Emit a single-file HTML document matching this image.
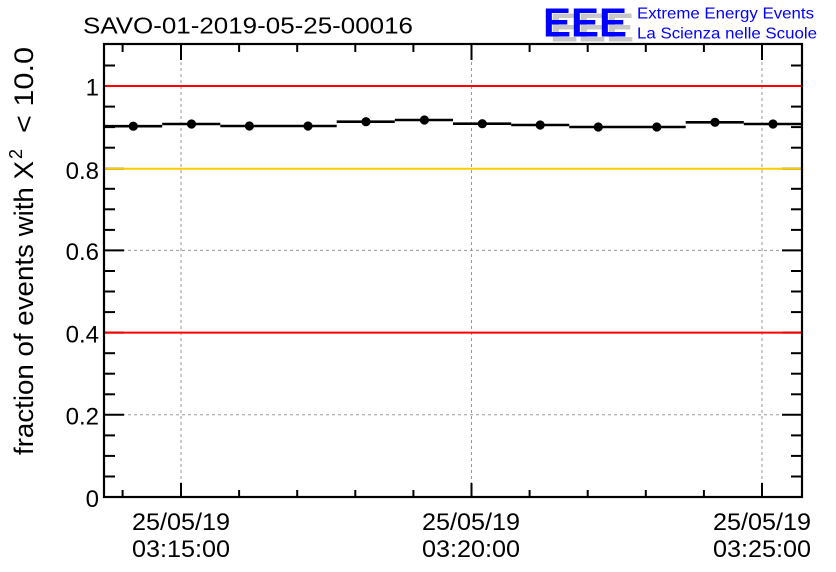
<!DOCTYPE html>
<html>
<head>
<meta charset="utf-8">
<style>
html,body{margin:0;padding:0;background:#fff;}
svg{display:block;}
text{font-family:"Liberation Sans",Arial,sans-serif;}
</style>
</head>
<body>
<svg width="836" height="572" viewBox="0 0 836 572" xmlns="http://www.w3.org/2000/svg">
<rect x="0" y="0" width="836" height="572" fill="#fff"/>

<!-- grid -->
<g stroke="#999" stroke-width="1" stroke-dasharray="3,3" fill="none">
<line x1="181" y1="44" x2="181" y2="497"/>
<line x1="471.5" y1="44" x2="471.5" y2="497"/>
<line x1="762" y1="44" x2="762" y2="497"/>
<line x1="104" y1="414.8" x2="802" y2="414.8"/>
<line x1="104" y1="250.4" x2="802" y2="250.4"/>
</g>

<!-- y ticks -->
<g stroke="#000" stroke-width="2">
<line x1="104" y1="497" x2="124" y2="497"/><line x1="802" y1="497" x2="782" y2="497"/>
<line x1="104" y1="414.8" x2="124" y2="414.8"/><line x1="802" y1="414.8" x2="782" y2="414.8"/>
<line x1="104" y1="332.6" x2="124" y2="332.6"/><line x1="802" y1="332.6" x2="782" y2="332.6"/>
<line x1="104" y1="250.4" x2="124" y2="250.4"/><line x1="802" y1="250.4" x2="782" y2="250.4"/>
<line x1="104" y1="168.8" x2="124" y2="168.8"/><line x1="802" y1="168.8" x2="782" y2="168.8"/>
<line x1="104" y1="86" x2="124" y2="86"/><line x1="802" y1="86" x2="782" y2="86"/>

<line x1="104" y1="476.5" x2="115" y2="476.5"/><line x1="802" y1="476.5" x2="791" y2="476.5"/>
<line x1="104" y1="455.9" x2="115" y2="455.9"/><line x1="802" y1="455.9" x2="791" y2="455.9"/>
<line x1="104" y1="435.4" x2="115" y2="435.4"/><line x1="802" y1="435.4" x2="791" y2="435.4"/>
<line x1="104" y1="394.3" x2="115" y2="394.3"/><line x1="802" y1="394.3" x2="791" y2="394.3"/>
<line x1="104" y1="373.7" x2="115" y2="373.7"/><line x1="802" y1="373.7" x2="791" y2="373.7"/>
<line x1="104" y1="353.2" x2="115" y2="353.2"/><line x1="802" y1="353.2" x2="791" y2="353.2"/>
<line x1="104" y1="312.1" x2="115" y2="312.1"/><line x1="802" y1="312.1" x2="791" y2="312.1"/>
<line x1="104" y1="291.5" x2="115" y2="291.5"/><line x1="802" y1="291.5" x2="791" y2="291.5"/>
<line x1="104" y1="271" x2="115" y2="271"/><line x1="802" y1="271" x2="791" y2="271"/>
<line x1="104" y1="229.9" x2="115" y2="229.9"/><line x1="802" y1="229.9" x2="791" y2="229.9"/>
<line x1="104" y1="209.3" x2="115" y2="209.3"/><line x1="802" y1="209.3" x2="791" y2="209.3"/>
<line x1="104" y1="188.8" x2="115" y2="188.8"/><line x1="802" y1="188.8" x2="791" y2="188.8"/>
<line x1="104" y1="147.7" x2="115" y2="147.7"/><line x1="802" y1="147.7" x2="791" y2="147.7"/>
<line x1="104" y1="127.1" x2="115" y2="127.1"/><line x1="802" y1="127.1" x2="791" y2="127.1"/>
<line x1="104" y1="106.6" x2="115" y2="106.6"/><line x1="802" y1="106.6" x2="791" y2="106.6"/>
<line x1="104" y1="65.5" x2="115" y2="65.5"/><line x1="802" y1="65.5" x2="791" y2="65.5"/>
</g>

<!-- x ticks -->
<g stroke="#000" stroke-width="2">
<line x1="181" y1="497" x2="181" y2="483"/><line x1="181" y1="44" x2="181" y2="60"/>
<line x1="471.5" y1="497" x2="471.5" y2="483"/><line x1="471.5" y1="44" x2="471.5" y2="60"/>
<line x1="762" y1="497" x2="762" y2="483"/><line x1="762" y1="44" x2="762" y2="60"/>
<line x1="122.6" y1="497" x2="122.6" y2="490"/><line x1="122.6" y1="44" x2="122.6" y2="52"/>
<line x1="239.1" y1="497" x2="239.1" y2="490"/><line x1="239.1" y1="44" x2="239.1" y2="52"/>
<line x1="297.2" y1="497" x2="297.2" y2="490"/><line x1="297.2" y1="44" x2="297.2" y2="52"/>
<line x1="355.3" y1="497" x2="355.3" y2="490"/><line x1="355.3" y1="44" x2="355.3" y2="52"/>
<line x1="413.4" y1="497" x2="413.4" y2="490"/><line x1="413.4" y1="44" x2="413.4" y2="52"/>
<line x1="529.6" y1="497" x2="529.6" y2="490"/><line x1="529.6" y1="44" x2="529.6" y2="52"/>
<line x1="587.7" y1="497" x2="587.7" y2="490"/><line x1="587.7" y1="44" x2="587.7" y2="52"/>
<line x1="645.8" y1="497" x2="645.8" y2="490"/><line x1="645.8" y1="44" x2="645.8" y2="52"/>
<line x1="703.9" y1="497" x2="703.9" y2="490"/><line x1="703.9" y1="44" x2="703.9" y2="52"/>
</g>

<!-- reference lines (drawn over ticks) -->
<line x1="104" y1="86" x2="802" y2="86" stroke="#ff0000" stroke-width="2"/>
<line x1="104" y1="332.6" x2="802" y2="332.6" stroke="#ff0000" stroke-width="2"/>
<line x1="104" y1="168.8" x2="802" y2="168.8" stroke="#ffcc00" stroke-width="2"/>

<!-- data steps -->
<g stroke="#000" stroke-width="2.6">
<line x1="104" y1="126.2" x2="162.2" y2="126.2"/>
<line x1="162.2" y1="124" x2="220.3" y2="124"/>
<line x1="220.3" y1="126" x2="278.5" y2="126"/>
<line x1="278.5" y1="126" x2="336.7" y2="126"/>
<line x1="336.7" y1="121.7" x2="394.8" y2="121.7"/>
<line x1="394.8" y1="120" x2="453" y2="120"/>
<line x1="453" y1="123.7" x2="511.2" y2="123.7"/>
<line x1="511.2" y1="125" x2="569.3" y2="125"/>
<line x1="569.3" y1="127" x2="627.5" y2="127"/>
<line x1="627.5" y1="127" x2="685.7" y2="127"/>
<line x1="685.7" y1="122.3" x2="743.8" y2="122.3"/>
<line x1="743.8" y1="124" x2="802" y2="124"/>
</g>
<g fill="#000">
<circle cx="133.3" cy="126.2" r="4.6"/>
<circle cx="191.5" cy="124" r="4.6"/>
<circle cx="249.4" cy="126" r="4.6"/>
<circle cx="308" cy="126" r="4.6"/>
<circle cx="366" cy="121.7" r="4.6"/>
<circle cx="424.4" cy="120" r="4.6"/>
<circle cx="482.3" cy="123.7" r="4.6"/>
<circle cx="540.2" cy="125" r="4.6"/>
<circle cx="598.3" cy="127" r="4.6"/>
<circle cx="656.8" cy="127" r="4.6"/>
<circle cx="715" cy="122.3" r="4.6"/>
<circle cx="773" cy="124" r="4.6"/>
</g>

<!-- frame -->
<rect x="104" y="44" width="698" height="453" fill="none" stroke="#000" stroke-width="2.2"/>

<!-- y tick labels -->
<g font-size="24" text-anchor="end" fill="#000">
<text x="99" y="507">0</text>
<text x="99" y="424.5">0.2</text>
<text x="99" y="342.3">0.4</text>
<text x="99" y="260.1">0.6</text>
<text x="99" y="178.8">0.8</text>
<text x="99" y="95.7">1</text>
</g>

<!-- x tick labels -->
<g font-size="24" text-anchor="middle" fill="#000">
<text x="181" y="530" textLength="98" lengthAdjust="spacingAndGlyphs">25/05/19</text>
<text x="181" y="557" textLength="98" lengthAdjust="spacingAndGlyphs">03:15:00</text>
<text x="471" y="530" textLength="98" lengthAdjust="spacingAndGlyphs">25/05/19</text>
<text x="471" y="557" textLength="98" lengthAdjust="spacingAndGlyphs">03:20:00</text>
<text x="762" y="530" textLength="98" lengthAdjust="spacingAndGlyphs">25/05/19</text>
<text x="762" y="557" textLength="98" lengthAdjust="spacingAndGlyphs">03:25:00</text>
</g>

<!-- title -->
<text x="83" y="33.3" font-size="23.5" textLength="330" lengthAdjust="spacingAndGlyphs" fill="#000">SAVO-01-2019-05-25-00016</text>

<!-- y axis title -->
<g transform="translate(33,455) rotate(-90)" fill="#000">
<text x="0" y="0" font-size="27" textLength="294" lengthAdjust="spacingAndGlyphs">fraction of events with X</text>
<text x="296" y="-11" font-size="18">2</text>
<text x="322" y="0" font-size="27" textLength="86" lengthAdjust="spacingAndGlyphs">&lt; 10.0</text>
</g>

<!-- EEE logo -->
<text x="550" y="41.5" font-size="41" font-weight="bold" fill="#c8c8c8" textLength="84" lengthAdjust="spacingAndGlyphs">EEE</text>
<text x="543" y="36.5" font-size="41" font-weight="bold" fill="#0000ff" textLength="84" lengthAdjust="spacingAndGlyphs">EEE</text>
<text x="637" y="18.5" font-size="16" fill="#0000ff" textLength="177" lengthAdjust="spacingAndGlyphs">Extreme Energy Events</text>
<text x="637" y="38.3" font-size="16" fill="#0000ff" textLength="180" lengthAdjust="spacingAndGlyphs">La Scienza nelle Scuole</text>
</svg>
</body>
</html>
